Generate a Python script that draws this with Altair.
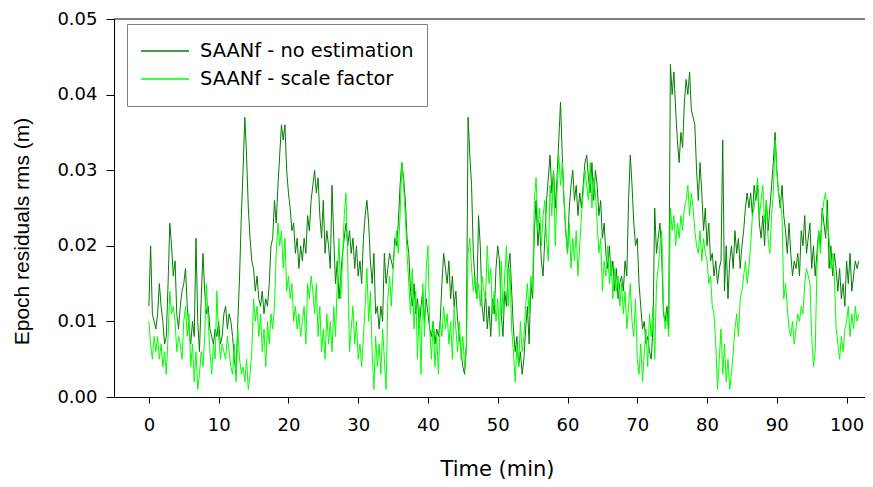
import altair as alt
import pandas as pd

# sampling interval of the series (minutes)
time_step_min = 0.25

# Epoch residual rms, in millimetres, one value every 0.25 min (4 per minute)
no_estimation_mm = [
    12, 20, 11, 10,  9, 11, 15, 12,  10, 7, 8, 15,  23, 20, 16, 18,  11, 9, 12, 14,
    15, 17, 12, 9,  7, 10, 8, 21,  10, 6, 13, 19,  14, 11, 12, 9,  8, 7, 9, 8,
    10, 7, 8, 11,  12, 9, 11, 10,  8, 5, 3, 10,  16, 24, 30, 37,  32, 25, 21, 18,
    17, 14, 16, 13,  12, 14, 11, 13,  12, 15, 20, 21,  26, 23, 28, 32,  36, 34, 36, 30,
    27, 25, 22, 23,  19, 21, 17, 20,  18, 21, 19, 24,  22, 26, 28, 30,  27, 29, 24, 21,
    26, 19, 22, 20,  17, 28, 21, 15,  18, 13, 16, 19,  21, 23, 20, 22,  19, 21, 17, 20,
    16, 18, 15, 21,  24, 26, 23, 18,  15, 19, 11, 12,  9, 12, 10, 19,  15, 17, 19, 18,
    17, 21, 20, 23,  28, 31, 29, 26,  21, 19, 14, 12,  15, 11, 13, 9,  12, 14, 10, 13,
    11, 9, 8, 10,  7, 9, 8, 10,  15, 19, 17, 15,  18, 13, 16, 12,  14, 10, 8, 6,
    4, 3, 7, 37,  32, 28, 19, 15,  13, 24, 20, 12,  10, 14, 9, 12,  8, 13, 11, 17,
    20, 18, 11, 8,  14, 12, 17, 19,  14, 9, 6, 8,  4, 6, 3, 5,  9, 12, 7, 15,
    13, 22, 26, 20,  23, 18, 16, 21,  26, 29, 32, 27,  30, 25, 29, 34,  39, 32, 26, 22,
    19, 25, 28, 30,  26, 28, 24, 27,  25, 28, 31, 32,  29, 27, 31, 26,  30, 28, 24, 26,
    21, 23, 19, 17,  20, 16, 18, 14,  17, 13, 15, 16,  14, 18, 16, 26,  32, 28, 23, 20,
    21, 15, 12, 9,  10, 7, 8, 6,  5, 9, 25, 19,  21, 23, 19, 11,  10, 12, 9, 44,
    40, 43, 38, 34,  31, 35, 33, 39,  42, 40, 43, 38,  37, 36, 30, 26,  31, 27, 22, 25,
    20, 23, 18, 19,  16, 18, 15, 17,  18, 34, 14, 20,  13, 18, 20, 17,  22, 19, 21, 17,
    20, 22, 25, 27,  25, 27, 24, 28,  26, 28, 23, 21,  24, 20, 26, 22,  25, 28, 31, 35,
    30, 27, 25, 28,  24, 22, 19, 23,  19, 16, 18, 17,  19, 16, 22, 20,  24, 19, 21, 23,
    17, 20, 16, 19,  22, 20, 25, 23,  21, 26, 17, 20,  16, 19, 17, 14,  17, 13, 15, 12,
    18, 15, 19, 14,  16, 18, 17, 18,
]

scale_factor_mm = [
    10, 7, 5, 8,  6, 8, 5, 7,  4, 6, 3, 8,  14, 11, 12, 10,  6, 8, 7, 5,
    10, 12, 8, 11,  4, 7, 2, 6,  1, 3, 6, 4,  8, 15, 10, 6,  3, 7, 5, 14,
    8, 5, 7, 6,  5, 8, 6, 4,  3, 7, 2, 9,  5, 3, 4, 2,  5, 1, 3, 6,
    13, 10, 12, 8,  11, 6, 9, 4,  10, 7, 11, 9,  12, 19, 23, 20,  22, 17, 21, 14,
    16, 13, 15, 10,  12, 9, 11, 8,  10, 12, 7, 15,  13, 16, 14, 11,  15, 8, 12, 6,
    9, 5, 11, 7,  10, 6, 12, 8,  15, 21, 13, 18,  24, 27, 18, 6,  9, 12, 7, 10,
    5, 7, 4, 8,  12, 17, 10, 14,  6, 1, 8, 4,  7, 3, 9, 5,  1, 13, 16, 12,
    17, 20, 22, 19,  24, 31, 28, 24,  19, 15, 11, 17,  9, 14, 5, 12,  3, 15, 8, 17,
    20, 9, 5, 10,  4, 8, 3, 10,  8, 12, 9, 11,  7, 10, 5, 12,  9, 6, 10, 5,
    8, 4, 6, 19,  21, 17, 14, 16,  13, 15, 12, 16,  14, 13, 20, 15,  17, 11, 14, 10,
    13, 8, 18, 11,  16, 20, 12, 17,  9, 6, 2, 7,  4, 10, 6, 8,  12, 15, 11, 16,
    14, 26, 29, 22,  25, 20, 24, 26,  21, 18, 28, 24,  30, 20, 27, 32,  28, 31, 26, 22,
    19, 23, 17, 21,  18, 22, 16, 20,  24, 27, 30, 28,  26, 31, 25, 29,  27, 23, 19, 21,
    14, 18, 16, 20,  15, 18, 13, 17,  14, 16, 12, 15,  11, 14, 9, 12,  15, 10, 8, 13,
    5, 3, 7, 2,  6, 9, 4, 11,  8, 12, 5, 15,  17, 20, 22, 12,  9, 11, 8, 25,
    22, 24, 20, 23,  21, 24, 22, 25,  26, 28, 24, 27,  25, 22, 20, 19,  22, 18, 21, 19,
    18, 15, 16, 12,  11, 7, 1, 5,  9, 3, 7, 2,  5, 1, 3, 6,  9, 11, 8, 13,
    14, 16, 18, 15,  17, 20, 24, 25,  27, 29, 24, 26,  28, 23, 26, 21,  19, 24, 27, 34,
    30, 27, 26, 24,  13, 15, 12, 9,  8, 10, 7, 9,  11, 10, 12, 11,  15, 17, 16, 15,
    8, 4, 6, 17,  22, 19, 24, 26,  27, 23, 21, 17,  19, 16, 9, 7,  5, 8, 6, 9,
    10, 12, 8, 11,  9, 12, 10, 11,
]

series_names = ["SAANf - no estimation", "SAANf - scale factor"]
series_colors = ["#007f00", "#00ff00"]

x_ticks = [0, 10, 20, 30, 40, 50, 60, 70, 80, 90, 100]
y_ticks = [0.00, 0.01, 0.02, 0.03, 0.04, 0.05]

rows = []
for name, vals in zip(series_names, [no_estimation_mm, scale_factor_mm]):
    for i, v in enumerate(vals):
        rows.append({"time": i * time_step_min, "rms": v / 1000.0, "series": name})
df = pd.DataFrame(rows)

x_enc = alt.X(
    "time:Q",
    scale=alt.Scale(domain=[-5, 102.64], nice=False, zero=False),
    axis=alt.Axis(
        values=x_ticks, title="Time (min)", grid=False,
        tickSize=6, labelPadding=13, titlePadding=24, titleX=383,
        labelFont="DejaVu Sans", labelFontSize=18,
        titleFont="DejaVu Sans", titleFontSize=21, titleFontWeight="normal",
        domainColor="black", tickColor="black", labelColor="black", titleColor="black",
    ),
)
y_enc = alt.Y(
    "rms:Q",
    scale=alt.Scale(domain=[0, 0.05], nice=False),
    axis=alt.Axis(
        values=y_ticks, format=".2f", title="Epoch residuals rms (m)", grid=False,
        tickSize=8, labelPadding=9, titlePadding=24, titleY=212,
        labelFont="DejaVu Sans", labelFontSize=18,
        titleFont="Liberation Sans", titleFontSize=21, titleFontWeight="normal",
        domainColor="black", tickColor="black", labelColor="black", titleColor="black",
    ),
)

lines = alt.Chart(df).mark_line(strokeWidth=1, clip=True).encode(
    x=x_enc,
    y=y_enc,
    color=alt.Color(
        "series:N",
        scale=alt.Scale(domain=series_names, range=series_colors),
        legend=alt.Legend(
            title=None, orient="none", legendX=13, legendY=5, direction="vertical",
            symbolType="stroke", symbolSize=2304, symbolStrokeWidth=1.5,
            clipHeight=28, rowPadding=0, labelOffset=10, padding=13,
            labelFont="DejaVu Sans", labelFontSize=19.4, labelColor="black", labelLimit=0,
            strokeColor="#808080", fillColor="white",
        ),
    ),
)

top_frame = pd.DataFrame({"rms": [0.05]})
top_rule = alt.Chart(top_frame).mark_rule(color="black", strokeWidth=1).encode(y="rms:Q")

chart = alt.layer(lines, top_rule).properties(
    width=751, height=378,
    autosize=alt.AutoSizeParams(type="none"),
    padding={"left": 106, "top": 11, "right": 0, "bottom": 82},
).configure_view(stroke=None)

chart.save("out.html", embed_options={"renderer": "svg", "actions": False})
